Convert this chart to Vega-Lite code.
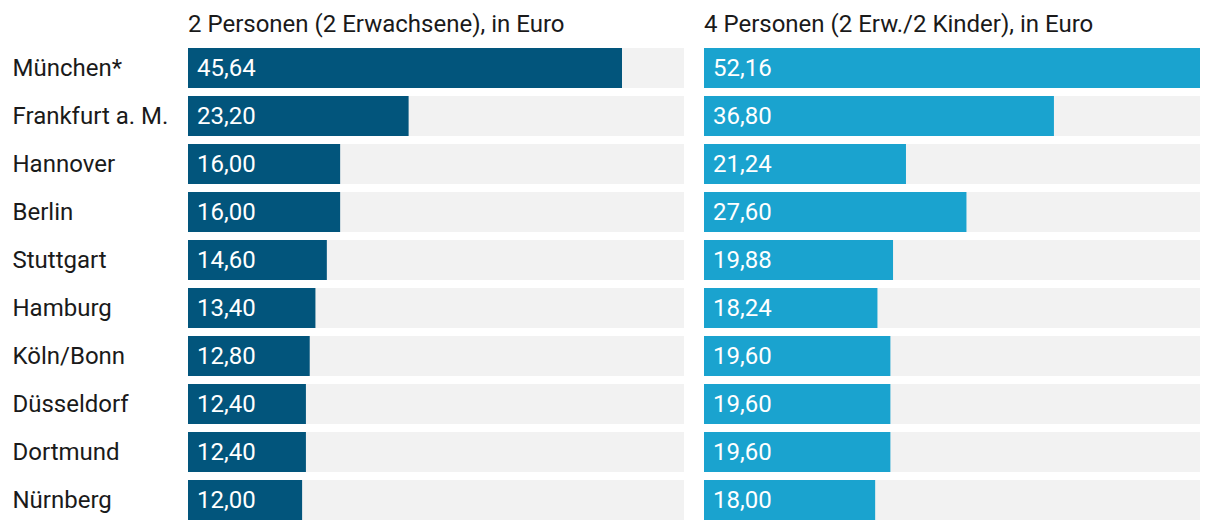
{
  "$schema": "https://vega.github.io/schema/vega-lite/v6.json",
  "padding": {"left": 12, "top": 13, "right": 20, "bottom": 10},
  "background": "white",
  "config": {
    "locale": {"number": {"decimal": ",", "thousands": ".", "grouping": [3], "currency": ["", " €"]}},
    "font": "Roboto",
    "view": {"stroke": null},
    "concat": {"spacing": 20},
    "title": {"font": "Roboto", "fontSize": 24, "fontWeight": "normal", "color": "#1a1a1a", "anchor": "start", "frame": "group", "offset": 11}
  },
  "data": {
    "values": [
      {"city": "München*", "p2": 45.64, "p4": 52.16},
      {"city": "Frankfurt a. M.", "p2": 23.20, "p4": 36.80},
      {"city": "Hannover", "p2": 16.00, "p4": 21.24},
      {"city": "Berlin", "p2": 16.00, "p4": 27.60},
      {"city": "Stuttgart", "p2": 14.60, "p4": 19.88},
      {"city": "Hamburg", "p2": 13.40, "p4": 18.24},
      {"city": "Köln/Bonn", "p2": 12.80, "p4": 19.60},
      {"city": "Düsseldorf", "p2": 12.40, "p4": 19.60},
      {"city": "Dortmund", "p2": 12.40, "p4": 19.60},
      {"city": "Nürnberg", "p2": 12.00, "p4": 18.00}
    ]
  },
  "hconcat": [
    {
      "width": 496,
      "height": 472,
      "title": "2 Personen (2 Erwachsene), in Euro",
      "encoding": {
        "y": {
          "field": "city", "type": "nominal", "sort": null,
          "scale": {"paddingInner": 0.1666667, "paddingOuter": 0},
          "axis": {"title": null, "domain": false, "ticks": false, "labelAlign": "left", "labelPadding": 176, "labelFont": "Roboto", "labelFontSize": 24, "labelColor": "#1a1a1a", "labelOffset": 1}
        }
      },
      "layer": [
        {
          "mark": {"type": "bar", "color": "#f2f2f2"},
          "encoding": {
            "x": {"datum": 0, "type": "quantitative", "scale": {"domain": [0, 52.16], "nice": false}, "axis": null},
            "x2": {"datum": 52.16}
          }
        },
        {
          "mark": {"type": "bar", "color": "#02557c"},
          "encoding": {
            "x": {"field": "p2", "type": "quantitative", "scale": {"domain": [0, 52.16], "nice": false}, "axis": null}
          }
        },
        {
          "mark": {"type": "text", "align": "left", "baseline": "middle", "dx": 9, "dy": 1, "color": "white", "font": "Roboto", "fontSize": 24},
          "encoding": {
            "x": {"datum": 0, "type": "quantitative", "scale": {"domain": [0, 52.16], "nice": false}, "axis": null},
            "text": {"field": "p2", "type": "quantitative", "format": ".2f"}
          }
        }
      ]
    },
    {
      "width": 496,
      "height": 472,
      "title": "4 Personen (2 Erw./2 Kinder), in Euro",
      "encoding": {
        "y": {
          "field": "city", "type": "nominal", "sort": null,
          "scale": {"paddingInner": 0.1666667, "paddingOuter": 0},
          "axis": null
        }
      },
      "layer": [
        {
          "mark": {"type": "bar", "color": "#f2f2f2"},
          "encoding": {
            "x": {"datum": 0, "type": "quantitative", "scale": {"domain": [0, 52.16], "nice": false}, "axis": null},
            "x2": {"datum": 52.16}
          }
        },
        {
          "mark": {"type": "bar", "color": "#1aa3cf"},
          "encoding": {
            "x": {"field": "p4", "type": "quantitative", "scale": {"domain": [0, 52.16], "nice": false}, "axis": null}
          }
        },
        {
          "mark": {"type": "text", "align": "left", "baseline": "middle", "dx": 9, "dy": 1, "color": "white", "font": "Roboto", "fontSize": 24},
          "encoding": {
            "x": {"datum": 0, "type": "quantitative", "scale": {"domain": [0, 52.16], "nice": false}, "axis": null},
            "text": {"field": "p4", "type": "quantitative", "format": ".2f"}
          }
        }
      ]
    }
  ]
}
